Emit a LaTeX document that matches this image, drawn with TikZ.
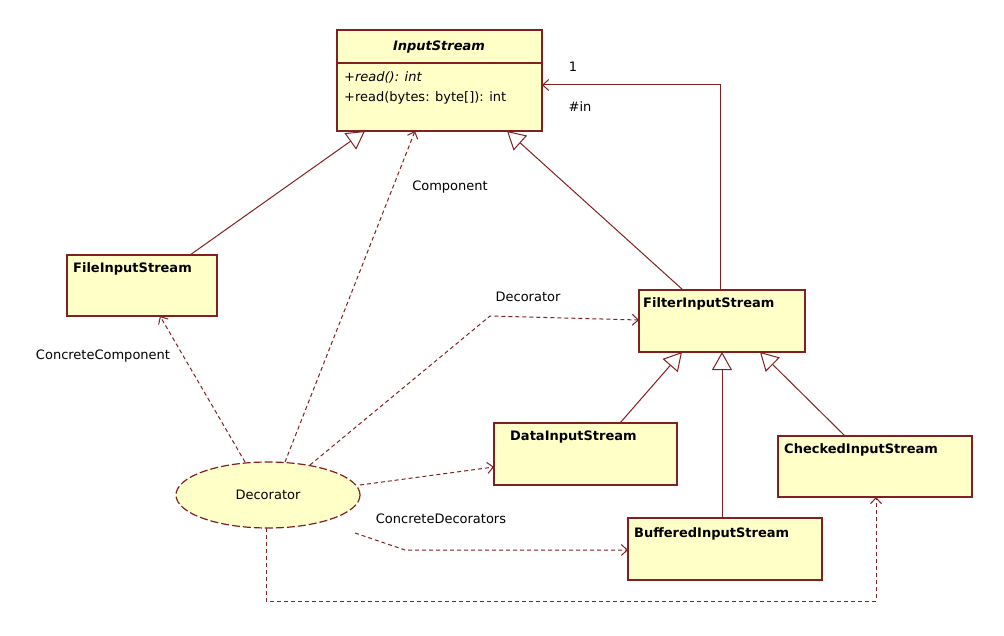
\documentclass[tikz,border=0pt]{standalone}
\usepackage{fontspec}
\setmainfont{DejaVu Sans}
\usetikzlibrary{arrows.meta,shapes.geometric}
\definecolor{ln}{RGB}{128,32,32}
\definecolor{fl}{RGB}{255,255,200}
\begin{document}
\begin{tikzpicture}[x=1pt,y=-1pt,
  box/.style={draw=ln,fill=fl,line width=1.4pt},
  lbl/.style={font=\fontsize{13}{15}\selectfont\bfseries,anchor=north west,inner sep=0},
  txt/.style={font=\fontsize{13}{15}\selectfont,inner sep=0},
  gen/.style={draw=ln,line width=1pt,-{Triangle[open,length=18pt,width=20pt,fill=white]}},
  dep/.style={draw=ln,line width=1pt,dashed,dash pattern=on 4pt off 3pt,-{Straight Barb[length=6pt,width=11pt]}},
  ass/.style={draw=ln,line width=1pt,-{Straight Barb[length=6pt,width=11pt]}}]
\useasboundingbox (0,0) rectangle (1004,636);
% boxes
\draw[box] (337,30) rectangle (542,131);
\draw[ln,line width=1.4pt] (337,63) -- (542,63);
\node[font=\fontsize{13}{15}\selectfont\bfseries\itshape] (isname) at (439,47) {InputStream};
\node[txt,anchor=north west] (m1) at (344,71) {\itshape +read(): int};
\node[txt,anchor=north west] (m2) at (344,91) {+read(bytes: byte[]): int};
\draw[box] (67,255) rectangle (217,316); \node[lbl] (fis) at (73,262) {FileInputStream};
\draw[box] (639,290) rectangle (805,352); \node[lbl] (flt) at (643,297) {FilterInputStream};
\draw[box] (494,423) rectangle (677,485); \node[lbl] (dis) at (510,431) {DataInputStream};
\draw[box] (778,436) rectangle (972,497); \node[lbl] (cis) at (784,443) {CheckedInputStream};
\draw[box] (628,518) rectangle (822,580); \node[lbl] (bis) at (634,527) {BufferedInputStream};
\node[ellipse,draw=ln,fill=fl,line width=1.2pt,dash pattern=on 8pt off 3pt,minimum width=184pt,minimum height=66pt,txt] (dec) at (268,495) {Decorator};
% generalizations
\draw[gen] (190,255) -- (365,131);
\draw[gen] (683,290) -- (507,131);
\draw[gen] (620,423) -- (682,352);
\draw[gen] (722,518) -- (722,352);
\draw[gen] (845,436) -- (760,352);
% association
\draw[ass] (720,290) -- (720,85) -- (542,85);
\node[txt] (one) at (573,67) {1};
\node[txt] (in) at (580,107) {\#in};
% dependencies
\draw[dep] (245,462) -- (160,316);
\node[txt] (cc) at (103,356) {ConcreteComponent};
\draw[dep] (285,462) -- (415,131);
\node[txt] (comp) at (450,187) {Component};
\draw[dep] (310,465) -- (490,316) -- (639,320);
\node[txt] (dl) at (528,297) {Decorator};
\draw[dep] (360,485) -- (494,467);
\draw[dep] (355,533) -- (405,550) -- (628,550);
\node[txt] (cd) at (441,519) {ConcreteDecorators};
\draw[dep] (266,528) -- (266,601) -- (876,601) -- (876,497);
\end{tikzpicture}
\end{document}
